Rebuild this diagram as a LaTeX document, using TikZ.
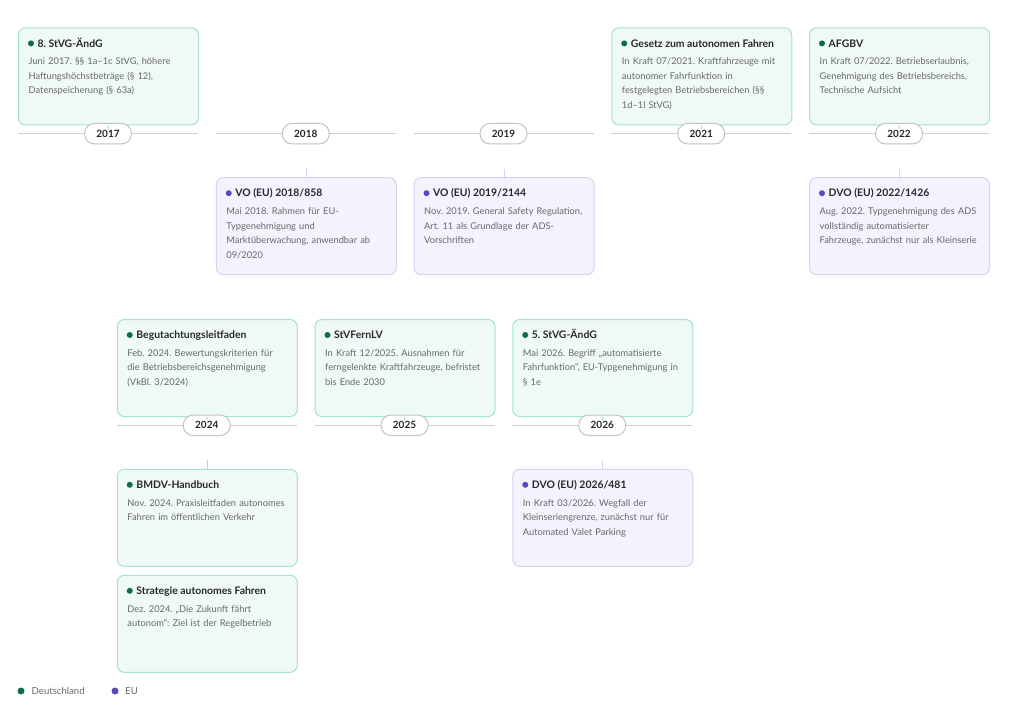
\documentclass[tikz,border=0pt]{standalone}
\usepackage{fontspec}
\setmainfont{Lato}
\frenchspacing
\usetikzlibrary{calc,positioning}
\definecolor{defill}{RGB}{239,249,245}
\definecolor{deborder}{RGB}{163,228,203}
\definecolor{dedot}{RGB}{14,107,78}
\definecolor{eufill}{RGB}{243,242,253}
\definecolor{euborder}{RGB}{214,209,245}
\definecolor{eudot}{RGB}{90,72,192}
\definecolor{axisgray}{RGB}{212,208,200}
\definecolor{pillgray}{RGB}{200,196,186}
\definecolor{titlegray}{RGB}{40,40,40}
\definecolor{bodygray}{RGB}{105,105,105}

\begin{document}
\begin{tikzpicture}[
    x=1pt, y=-1pt,
    card de/.style={draw=deborder, fill=defill, line width=1pt, rounded corners=7pt,
        minimum width=180pt, minimum height=97pt, inner sep=0pt, anchor=north west},
    card eu/.style={card de, draw=euborder, fill=eufill},
    dot de/.style={circle, fill=dedot, minimum size=6pt, inner sep=0pt},
    dot eu/.style={dot de, fill=eudot},
    title/.style={anchor=base west, inner sep=0pt, text=titlegray, font=\fontsize{10.4}{12}\selectfont\bfseries},
    body/.style={anchor=north west, inner sep=0pt, text=bodygray, align=left, text width=172pt,
        font=\fontsize{9.3}{14.5}\selectfont},
    axis/.style={draw=axisgray, line width=1.1pt},
    year/.style={draw=pillgray, fill=white, line width=1pt, rounded corners=10pt,
        minimum width=47pt, minimum height=20.5pt, inner sep=0pt, text=titlegray,
        font=\fontsize{10}{12}\selectfont\bfseries},
    stub de/.style={draw=deborder, line width=1pt},
    stub eu/.style={draw=euborder, line width=1pt},
    legend/.style={anchor=base west, inner sep=0pt, text=bodygray, font=\fontsize{9.6}{11}\selectfont}
]

% Background
\useasboundingbox[fill=white] (0,0) rectangle (1024,712);

% === Row 1: timeline 2017--2022 ===
\draw[axis] (18,133.7) -- (198,133.7);
\draw[axis] (215.75,133.7) -- (395.75,133.7);
\draw[axis] (413.5,133.7) -- (593.5,133.7);
\draw[axis] (611.25,133.7) -- (791.25,133.7);
\draw[axis] (809,133.7) -- (989,133.7);

% 2017
\node[card de] (c2017) at (18,27.4) {};
\node[dot de] at ($(c2017.north west)+(13,16)$) {};
\node[title] at ($(c2017.north west)+(19.5,19.6)$) {8. StVG-ÄndG};
\node[body] at ($(c2017.north west)+(10.5,27)$) {\strut Juni 2017. §§ 1a–1c StVG, höhere\\Haftungshöchstbeträge (§ 12),\\Datenspeicherung (§ 63a)};

% 2018
\node[card eu] (c2018) at (215.75,177.2) {};
\node[dot eu] at ($(c2018.north west)+(13,16)$) {};
\node[title] at ($(c2018.north west)+(19.5,19.6)$) {VO (EU) 2018/858};
\node[body] at ($(c2018.north west)+(10.5,27)$) {\strut Mai 2018. Rahmen für EU-\\Typgenehmigung und\\Marktüberwachung, anwendbar ab\\09/2020};

% 2019
\node[card eu] (c2019) at (413.5,177.2) {};
\node[dot eu] at ($(c2019.north west)+(13,16)$) {};
\node[title] at ($(c2019.north west)+(19.5,19.6)$) {VO (EU) 2019/2144};
\node[body] at ($(c2019.north west)+(10.5,27)$) {\strut Nov. 2019. General Safety Regulation,\\Art. 11 als Grundlage der ADS-\\Vorschriften};

% 2021
\node[card de] (c2021) at (611.25,27.4) {};
\node[dot de] at ($(c2021.north west)+(13,16)$) {};
\node[title] at ($(c2021.north west)+(19.5,19.6)$) {Gesetz zum autonomen Fahren};
\node[body] at ($(c2021.north west)+(10.5,27)$) {\strut In Kraft 07/2021. Kraftfahrzeuge mit\\autonomer Fahrfunktion in\\festgelegten Betriebsbereichen (§§\\1d–1l StVG)};

% 2022
\node[card de] (c2022a) at (809,27.4) {};
\node[dot de] at ($(c2022a.north west)+(13,16)$) {};
\node[title] at ($(c2022a.north west)+(19.5,19.6)$) {AFGBV};
\node[body] at ($(c2022a.north west)+(10.5,27)$) {\strut In Kraft 07/2022. Betriebserlaubnis,\\Genehmigung des Betriebsbereichs,\\Technische Aufsicht};

\node[card eu] (c2022b) at (809,177.2) {};
\node[dot eu] at ($(c2022b.north west)+(13,16)$) {};
\node[title] at ($(c2022b.north west)+(19.5,19.6)$) {DVO (EU) 2022/1426};
\node[body] at ($(c2022b.north west)+(10.5,27)$) {\strut Aug. 2022. Typgenehmigung des ADS\\vollständig automatisierter\\Fahrzeuge, zunächst nur als Kleinserie};

% year pills
\node[year] (p2017) at (108,133.7) {2017};
\node[year] (p2018) at (305.75,133.7) {2018};
\node[year] (p2019) at (503.5,133.7) {2019};
\node[year] (p2021) at (701.25,133.7) {2021};
\node[year] (p2022) at (899,133.7) {2022};

% stubs
\draw[stub de] (c2017.south) -- ($(p2017.north)+(0,6)$);
\draw[stub de] (c2021.south) -- ($(p2021.north)+(0,6)$);
\draw[stub de] (c2022a.south) -- ($(p2022.north)+(0,6)$);
\draw[stub eu] (c2018.north) -- ++(0,-8.6);
\draw[stub eu] (c2019.north) -- ++(0,-8.6);
\draw[stub eu] (c2022b.north) -- ++(0,-8.6);

% === Row 2: timeline 2024--2026 ===
\draw[axis] (116.75,425.3) -- (296.75,425.3);
\draw[axis] (314.5,425.3) -- (494.5,425.3);
\draw[axis] (512.25,425.3) -- (692.25,425.3);

% 2024
\node[card de] (c2024a) at (116.75,319) {};
\node[dot de] at ($(c2024a.north west)+(13,16)$) {};
\node[title] at ($(c2024a.north west)+(19.5,19.6)$) {Begutachtungsleitfaden};
\node[body] at ($(c2024a.north west)+(10.5,27)$) {\strut Feb. 2024. Bewertungskriterien für\\die Betriebsbereichsgenehmigung\\(VkBl. 3/2024)};

\node[card de] (c2024b) at (116.75,468.8) {};
\node[dot de] at ($(c2024b.north west)+(13,16)$) {};
\node[title] at ($(c2024b.north west)+(19.5,19.6)$) {BMDV-Handbuch};
\node[body] at ($(c2024b.north west)+(10.5,27)$) {\strut Nov. 2024. Praxisleitfaden autonomes\\Fahren im öffentlichen Verkehr};

\node[card de] (c2024c) at (116.75,574.8) {};
\node[dot de] at ($(c2024c.north west)+(13,16)$) {};
\node[title] at ($(c2024c.north west)+(19.5,19.6)$) {Strategie autonomes Fahren};
\node[body] at ($(c2024c.north west)+(10.5,27)$) {\strut Dez. 2024. „Die Zukunft fährt\\autonom“: Ziel ist der Regelbetrieb};

% 2025
\node[card de] (c2025) at (314.5,319) {};
\node[dot de] at ($(c2025.north west)+(13,16)$) {};
\node[title] at ($(c2025.north west)+(19.5,19.6)$) {StVFernLV};
\node[body] at ($(c2025.north west)+(10.5,27)$) {\strut In Kraft 12/2025. Ausnahmen für\\ferngelenkte Kraftfahrzeuge, befristet\\bis Ende 2030};

% 2026
\node[card de] (c2026a) at (512.25,319) {};
\node[dot de] at ($(c2026a.north west)+(13,16)$) {};
\node[title] at ($(c2026a.north west)+(19.5,19.6)$) {5. StVG-ÄndG};
\node[body] at ($(c2026a.north west)+(10.5,27)$) {\strut Mai 2026. Begriff „automatisierte\\Fahrfunktion“, EU-Typgenehmigung in\\§ 1e};

\node[card eu] (c2026b) at (512.25,468.8) {};
\node[dot eu] at ($(c2026b.north west)+(13,16)$) {};
\node[title] at ($(c2026b.north west)+(19.5,19.6)$) {DVO (EU) 2026/481};
\node[body] at ($(c2026b.north west)+(10.5,27)$) {\strut In Kraft 03/2026. Wegfall der\\Kleinseriengrenze, zunächst nur für\\Automated Valet Parking};

% year pills
\node[year] (p2024) at (206.75,425.3) {2024};
\node[year] (p2025) at (404.5,425.3) {2025};
\node[year] (p2026) at (602.25,425.3) {2026};

% stubs
\draw[stub de] (c2024a.south) -- ($(p2024.north)+(0,6)$);
\draw[stub de] (c2025.south) -- ($(p2025.north)+(0,6)$);
\draw[stub de] (c2026a.south) -- ($(p2026.north)+(0,6)$);
\draw[stub de] (c2024b.north) -- ++(0,-8.6);
\draw[stub eu] (c2026b.north) -- ++(0,-8.6);

% === Legend ===
\node[dot de, minimum size=7pt] (lde) at (21,691) {};
\node[legend] at (31.5,694.4) {Deutschland};
\node[dot eu, minimum size=7pt] (leu) at (115,691) {};
\node[legend] at (125,694.4) {EU};

\end{tikzpicture}
\end{document}
